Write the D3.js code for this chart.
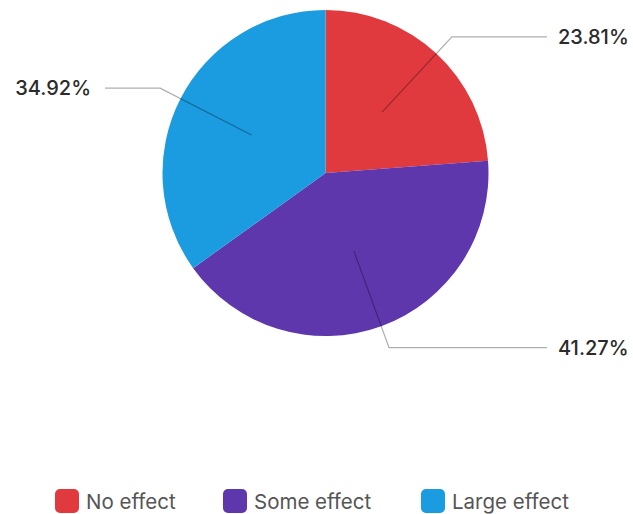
<!DOCTYPE html>
<html><head><meta charset="utf-8">
<script src="https://cdn.jsdelivr.net/npm/d3@7"></script>
<style>body{margin:0;background:#fff}svg{display:block}</style>
</head><body>
<svg id="c" width="633" height="514"></svg>
<script>
const categories = ["No effect", "Some effect", "Large effect"];
const values = [23.81, 41.27, 34.92];
const labels = ["23.81%", "41.27%", "34.92%"];
const colors = ["#E03A3E", "#5E37AD", "#1B9BE0"];

const svg = d3.select("#c");
const cx = 325.5, cy = 173, R = 163;
const g = svg.append("g").attr("transform", `translate(${cx},${cy})`);
const data = categories.map((c, i) => ({c, v: values[i], l: labels[i], col: colors[i]}));
const pie = d3.pie().value(d => d.v).sort(null);
const arcs = pie(data);
const arc = d3.arc().innerRadius(0).outerRadius(R);
g.selectAll("path.s").data(arcs).join("path").attr("class","s")
  .attr("d", arc).attr("fill", d => d.data.col);

const inner = d3.arc().innerRadius(R*0.51).outerRadius(R*0.51);
const outer = d3.arc().innerRadius(R*1.14).outerRadius(R*1.14);
arcs.forEach(a => {
  const p1 = inner.centroid(a), p2 = outer.centroid(a);
  const right = p2[0] > 0;
  const x3 = right ? 547 - cx : 105 - cx;
  g.append("polyline").attr("points", [p1, p2, [x3, p2[1]]].map(p => p.join(",")).join(" "))
    .attr("fill","none").attr("stroke","rgba(0,0,0,0.32)").attr("stroke-width",1.2);
  g.append("text").attr("x", right ? x3 + 11 : x3 - 14).attr("y", p2[1])
    .attr("dy","0.35em").attr("text-anchor", right ? "start" : "end")
    .attr("font-family","Inter, 'Noto Sans', sans-serif").attr("font-size",20).attr("font-weight",500)
    .attr("fill","#2b2b2b").text(a.data.l);
});

const legX = [55, 223, 421];
const lg = svg.append("g");
data.forEach((d, i) => {
  const x = legX[i];
  lg.append("rect").attr("x", x).attr("y", 489).attr("width", 24).attr("height", 24)
    .attr("rx", 5).attr("fill", d.col);
  lg.append("text").attr("x", x + 31).attr("y", 502).attr("dy","0.35em")
    .attr("font-family","Inter, 'Noto Sans', sans-serif").attr("font-size",20.5)
    .attr("fill","#555").text(d.c);
});
</script>
</body></html>
